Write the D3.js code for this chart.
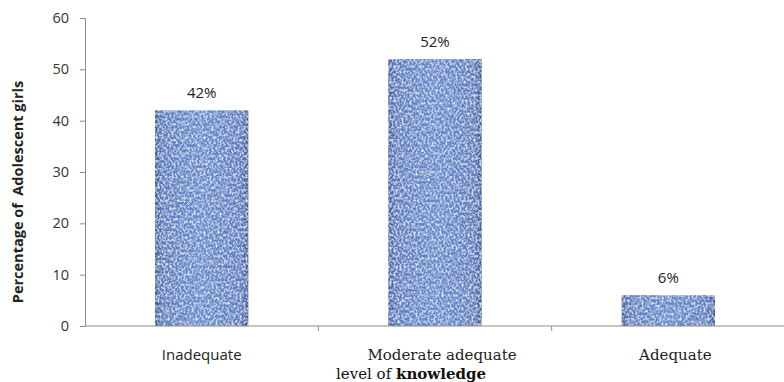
<!DOCTYPE html>
<html>
<head>
<meta charset="utf-8">
<script src="https://cdn.jsdelivr.net/npm/d3@7"></script>
<style>
  html, body { margin: 0; padding: 0; background: #ffffff; }
  svg { display: block; }
</style>
</head>
<body>
<svg id="chart" width="784" height="382"></svg>
<script>
// Knowledge level of adolescent girls (percentage)
const categories = ["Inadequate", "Moderate adequate", "Adequate"];
const percentages = [42, 52, 6];
const yTicks = [0, 10, 20, 30, 40, 50, 60];

const svg = d3.select("#chart");
const W = 784, H = 382;
const margin = { left: 85, right: 0, top: 18, bottom: 56 };

const x = d3.scaleBand()
  .domain(categories)
  .range([margin.left, W - margin.right + 1])
  .paddingInner(0.6)
  .paddingOuter(0.3);

const y = d3.scaleLinear()
  .domain([0, 60])
  .range([H - margin.bottom, margin.top]);

// Woven texture filter for bars
const defs = svg.append("defs");
const grad = defs.append("linearGradient").attr("id", "barShade").attr("x1", 0).attr("x2", 1).attr("y1", 0).attr("y2", 0);
grad.append("stop").attr("offset", "0%").attr("stop-color", "#3d5c9e");
grad.append("stop").attr("offset", "8%").attr("stop-color", "#5c7dbf");
grad.append("stop").attr("offset", "50%").attr("stop-color", "#678bcd");
grad.append("stop").attr("offset", "92%").attr("stop-color", "#5c7dbf");
grad.append("stop").attr("offset", "100%").attr("stop-color", "#3a5898");

const f = defs.append("filter").attr("id", "weave")
  .attr("x", 0).attr("y", 0).attr("width", 1).attr("height", 1);
f.append("feTurbulence").attr("type", "fractalNoise")
  .attr("baseFrequency", "0.5 0.38").attr("numOctaves", 2).attr("seed", 7).attr("result", "n");
f.append("feColorMatrix").attr("in", "n").attr("type", "matrix")
  .attr("values", "0 0 0 0 0.80  0 0 0 0 0.87  0 0 0 0 0.98  2.4 0 0 0 -1.0")
  .attr("result", "light");
f.append("feColorMatrix").attr("in", "n").attr("type", "matrix")
  .attr("values", "0 0 0 0 0.17  0 0 0 0 0.25  0 0 0 0 0.45  0 -2.2 0 0 0.9")
  .attr("result", "dark");
f.append("feComposite").attr("in", "light").attr("in2", "SourceGraphic").attr("operator", "in").attr("result", "lc");
f.append("feComposite").attr("in", "dark").attr("in2", "SourceGraphic").attr("operator", "in").attr("result", "dc");
const merge = f.append("feMerge");
merge.append("feMergeNode").attr("in", "SourceGraphic");
merge.append("feMergeNode").attr("in", "dc");
merge.append("feMergeNode").attr("in", "lc");

// Bars
svg.append("g").selectAll("rect")
  .data(categories)
  .join("rect")
  .attr("x", d => x(d))
  .attr("width", x.bandwidth())
  .attr("y", (d, i) => y(percentages[i]))
  .attr("height", (d, i) => y(0) - y(percentages[i]))
  .attr("fill", "url(#barShade)")
  .attr("filter", "url(#weave)");

// Y axis
const yAxis = svg.append("g")
  .attr("transform", `translate(${margin.left},0)`)
  .call(d3.axisLeft(y).tickValues(yTicks).tickSize(5).tickPadding(11));
yAxis.select(".domain").attr("stroke", "#8c8c8c");
yAxis.selectAll(".tick line").attr("stroke", "#8c8c8c");
yAxis.selectAll(".tick text")
  .attr("font-family", "'Open Sans', 'Noto Sans', sans-serif")
  .attr("font-size", 14.5).attr("fill", "#333");

// X axis (category boundaries marked with ticks)
const xAxisG = svg.append("g").attr("transform", `translate(0,${y(0)})`);
xAxisG.append("line")
  .attr("x1", margin.left).attr("x2", W)
  .attr("stroke", "#8c8c8c");
const step = x.step();
const bounds = categories.map((d, i) => x(d) - x.paddingInner() * step / 2).slice(1);
xAxisG.selectAll("line.sep").data(bounds).join("line")
  .attr("class", "sep")
  .attr("x1", d => d).attr("x2", d => d)
  .attr("y1", 0).attr("y2", 5)
  .attr("stroke", "#8c8c8c");

// Category labels
svg.append("g").selectAll("text")
  .data(categories)
  .join("text")
  .attr("x", d => x(d) + x.bandwidth() / 2 + (d === "Inadequate" ? 0 : 7))
  .attr("y", 360)
  .attr("text-anchor", "middle")
  .attr("font-family", d => d === "Inadequate" ? "'Open Sans', sans-serif" : "'DejaVu Serif', serif")
  .attr("font-size", 15)
  .attr("fill", "#222")
  .text(d => d);

// Value labels
svg.append("g").selectAll("text")
  .data(categories)
  .join("text")
  .attr("x", d => x(d) + x.bandwidth() / 2)
  .attr("y", (d, i) => y(percentages[i]) - 12)
  .attr("text-anchor", "middle")
  .attr("font-family", "'Open Sans', 'Noto Sans', sans-serif")
  .attr("font-size", 15)
  .attr("fill", "#222")
  .text((d, i) => percentages[i] + "%");

// Axis titles
const xt = svg.append("text")
  .attr("x", 411).attr("y", 379)
  .attr("text-anchor", "middle")
  .attr("font-family", "'DejaVu Serif', serif")
  .attr("font-size", 15)
  .attr("fill", "#111");
xt.append("tspan").text("level of ");
xt.append("tspan").attr("font-weight", "bold").text("knowledge");

svg.append("text")
  .attr("transform", "translate(23,192) rotate(-90)")
  .attr("text-anchor", "middle")
  .attr("font-family", "'Open Sans', 'Noto Sans', sans-serif")
  .attr("font-weight", "bold")
  .attr("font-size", 14.5)
  .attr("fill", "#222")
  .style("white-space", "pre")
  .text("Percentage of  Adolescent girls");
</script>
</body>
</html>
